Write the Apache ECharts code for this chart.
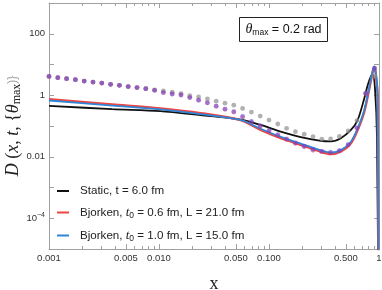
<!DOCTYPE html>
<html><head><meta charset="utf-8">
<script src="https://cdn.jsdelivr.net/npm/echarts@6/dist/echarts.min.js"></script>
<style>html,body{margin:0;padding:0;background:#fff}#c{width:382px;height:290px}</style>
</head><body><div id="c"></div>
<script>
// ---- data ----
const xTickLabels = [0.001, 0.005, 0.01, 0.05, 0.1, 0.5, 1];
const xTickText = ['0.001', '0.005', '0.010', '0.050', '0.100', '0.500', '1'];
const yTickLabels = [1e-4, 0.01, 1, 100];
const yTickText = ['10^-4', '0.01', '1', '100'];
const seriesNames = ['Static, t = 6.0 fm', 'Bjorken, t0 = 0.6 fm, L = 21.0 fm', 'Bjorken, t0 = 1.0 fm, L = 15.0 fm'];

const staticX = [0.001, 0.003754, 0.01028, 0.02381, 0.05515, 0.08395, 0.1278, 0.1944, 0.2958, 0.3649, 0.4502, 0.5556, 0.6393, 0.7345, 0.7888, 0.8455, 0.8762, 0.9195, 0.9590, 0.9895];
const staticY = [0.452, 0.354, 0.305, 0.226, 0.162, 0.108, 0.0655, 0.0432, 0.0328, 0.0316, 0.0401, 0.0743, 0.156, 0.783, 2.10, 4.19, 4.65, 1.64, 0.041, 1e-8];

const bj06X = [0.001, 0.003754, 0.01028, 0.02381, 0.05515, 0.08395, 0.1278, 0.1944, 0.2958, 0.3649, 0.4502, 0.5556, 0.6393, 0.7345, 0.8165, 0.8762, 0.9061, 0.9381, 0.9706, 0.9950];
const bj06Y = [0.743, 0.501, 0.372, 0.263, 0.156, 0.0743, 0.0401, 0.0244, 0.0145, 0.0122, 0.0148, 0.0277, 0.0743, 0.289, 1.64, 5.65, 8.19, 4.42, 1.0, 1e-8];

const bj10X = [0.001, 0.003754, 0.01028, 0.02381, 0.05515, 0.08395, 0.1278, 0.1944, 0.2958, 0.3649, 0.4502, 0.5556, 0.6393, 0.7345, 0.8165, 0.8762, 0.9061, 0.9381, 0.9706, 0.9930];
const bj10Y = [0.675, 0.459, 0.346, 0.244, 0.158, 0.0812, 0.0442, 0.0269, 0.0162, 0.0137, 0.0164, 0.0309, 0.0830, 0.328, 1.88, 6.17, 8.61, 5.12, 1.0, 1e-8];

const dotX = [0.001, 0.001202, 0.001445, 0.001738, 0.002089, 0.002512, 0.003020, 0.003631, 0.004365, 0.005248, 0.006310, 0.007586, 0.009120, 0.01096, 0.01318, 0.01585, 0.01905, 0.02291, 0.02754, 0.03311, 0.03981, 0.04786, 0.05754, 0.06918, 0.08318, 0.1, 0.1202, 0.1445, 0.1738, 0.2089, 0.2512, 0.3020, 0.3631, 0.4365, 0.5248, 0.6310, 0.7586, 0.9120];
const staticDots = [4.10, 3.72, 3.46, 3.21, 2.89, 2.69, 2.49, 2.26, 2.10, 1.91, 1.77, 1.64, 1.50, 1.38, 1.25, 1.13, 0.964, 0.882, 0.760, 0.640, 0.552, 0.475, 0.372, 0.283, 0.210, 0.156, 0.116, 0.0843, 0.0655, 0.054, 0.045, 0.0372, 0.0381, 0.0458, 0.069, 0.150, 1.16, 4.1];
const bj06Dots = [4.10, 3.72, 3.46, 3.21, 2.89, 2.69, 2.49, 2.26, 2.10, 1.91, 1.77, 1.64, 1.45, 1.22, 1.10, 1.02, 0.843, 0.690, 0.565, 0.442, 0.353, 0.285, 0.197, 0.136, 0.098, 0.069, 0.050, 0.0365, 0.027, 0.021, 0.0163, 0.0144, 0.0134, 0.0152, 0.0238, 0.084, 1.10, 7.3];
const bj10Dots = [4.10, 3.72, 3.46, 3.21, 2.89, 2.69, 2.49, 2.26, 2.10, 1.91, 1.77, 1.64, 1.45, 1.22, 1.10, 1.02, 0.843, 0.690, 0.565, 0.442, 0.353, 0.293, 0.204, 0.141, 0.102, 0.072, 0.052, 0.038, 0.0283, 0.022, 0.0172, 0.0152, 0.0142, 0.016, 0.025, 0.089, 1.16, 7.6];

const xMinorTicks = [0.002,0.003,0.004,0.006,0.007,0.008,0.009,0.02,0.03,0.04,0.06,0.07,0.08,0.09,0.2,0.3,0.4,0.6,0.7,0.8,0.9];
const yDecades = [1e-5,1e-4,1e-3,0.01,0.1,1,10,100,1000];

// ---- build ----
const zip = (xs, ys) => xs.map((x, i) => [x, ys[i]]);
const lblFont = 'Liberation Sans';
const frame = '#a0a0a0';
const lineColors = ['#111111', '#ef4444', '#2f86d6'];

function xAxisBase(extra) {
  return Object.assign({
    type: 'log', logBase: 10, min: 0.001, max: 1, gridIndex: 0,
    axisLine: { show: true, lineStyle: { color: frame, width: 1 } },
    splitLine: { show: false }, minorTick: { show: false }, minorSplitLine: { show: false }
  }, extra);
}
function yAxisBase(extra) {
  return Object.assign({
    type: 'log', logBase: 10, min: 1e-5, max: 1000, gridIndex: 0,
    axisLine: { show: true, lineStyle: { color: frame, width: 1 } },
    splitLine: { show: false }, minorTick: { show: false }, minorSplitLine: { show: false }
  }, extra);
}

const legendRich = {
  g: { width: 6 },
  n: { fontFamily: lblFont, fontSize: 11.6, color: '#222' },
  i: { fontFamily: 'Liberation Serif', fontStyle: 'italic', fontSize: 13, color: '#222' },
  s: { fontFamily: lblFont, fontSize: 8.5, color: '#222', padding: [6, 0, 0, 0] }
};
function legendFmt(name) {
  const m = name.match(/^(Bjorken, )t0( = .*)$/);
  if (m) return '{g|}{n|' + m[1] + '}{i|t}{s|0}{n|' + m[2] + '}';
  return '{g|}{n|' + name + '}';
}

const chart = echarts.init(document.getElementById('c'), null, { renderer: 'canvas' });
chart.setOption({
  animation: false,
  backgroundColor: '#fff',
  grid: { left: 49, right: 3, top: 3, bottom: 41, containLabel: false, outerBoundsMode: 'none' },
  legend: {
    data: seriesNames,
    orient: 'vertical', left: 52, top: 180, itemGap: 9,
    itemWidth: 12, itemHeight: 2, icon: 'rect',
    formatter: legendFmt,
    textStyle: { rich: legendRich, fontSize: 11.6 },
    selectedMode: false
  },
  xAxis: [
    xAxisBase({
      position: 'bottom',
      name: 'x', nameLocation: 'middle', nameGap: 26, nameMoveOverlap: false,
      nameTextStyle: { fontFamily: 'Liberation Serif', fontSize: 18, color: '#222' },
      axisTick: { show: true, inside: true, length: 5, lineStyle: { color: frame }, customValues: xTickLabels },
      axisLabel: {
        show: true, customValues: xTickLabels, margin: 4, fontSize: 9.5, fontFamily: lblFont, color: '#333',
        formatter: v => { const i = xTickLabels.findIndex(t => Math.abs(Math.log10(t) - Math.log10(v)) < 1e-6); return i >= 0 ? xTickText[i] : ''; }
      }
    }),
    xAxisBase({
      position: 'bottom', axisLine: { show: false },
      axisTick: { show: true, inside: true, length: 3, lineStyle: { color: frame }, customValues: xMinorTicks },
      axisLabel: { show: false }
    }),
    xAxisBase({
      position: 'top',
      axisTick: { show: true, inside: true, length: 5, lineStyle: { color: frame }, customValues: xTickLabels },
      axisLabel: { show: false }
    }),
    xAxisBase({
      position: 'top', axisLine: { show: false },
      axisTick: { show: true, inside: true, length: 3, lineStyle: { color: frame }, customValues: xMinorTicks },
      axisLabel: { show: false }
    })
  ],
  yAxis: [
    yAxisBase({
      position: 'left',
      name: '{i|D}{n| (}{i|x}{n|, }{i|t}{n|, {}{i|θ}{s|max}{n|})}',
      nameLocation: 'middle', nameGap: 26, nameRotate: 90, nameMoveOverlap: false,
      nameTextStyle: {
        rich: {
          i: { fontFamily: 'Liberation Serif', fontStyle: 'italic', fontSize: 18, color: '#222' },
          n: { fontFamily: 'Liberation Serif', fontSize: 18, color: '#222' },
          s: { fontFamily: 'Liberation Serif', fontSize: 12, color: '#222', padding: [8, 0, 0, 0] }
        }
      },
      axisTick: { show: true, inside: true, length: 5, lineStyle: { color: frame }, customValues: yDecades },
      axisLabel: {
        show: true, customValues: yTickLabels, margin: 4, fontSize: 9.5, fontFamily: lblFont, color: '#333',
        formatter: v => { const i = yTickLabels.findIndex(t => Math.abs(Math.log10(t) - Math.log10(v)) < 1e-6); if (i < 0) return ''; const s = yTickText[i]; if (s.indexOf('^') > 0) { const p = s.split('^'); return '{b|' + p[0] + '}{e|' + p[1].replace('-', '−') + '}'; } return s; },
        rich: { b: { fontSize: 9.5, fontFamily: lblFont, color: '#333' }, e: { fontSize: 7, fontFamily: lblFont, color: '#333', padding: [0, 0, 6, 0] } }
      }
    }),
    yAxisBase({
      position: 'right',
      axisTick: { show: true, inside: true, length: 5, lineStyle: { color: frame }, customValues: yDecades },
      axisLabel: { show: false }
    })
  ],
  graphic: [{
    type: 'group', left: 239, top: 17,
    children: [
      { type: 'rect', shape: { x: 0, y: 0, width: 88, height: 24 }, style: { fill: '#fff', stroke: '#222', lineWidth: 1 } },
      { type: 'text', x: 44, y: 12, style: {
          text: '{i|θ}{s|max}{n| = 0.2 rad}', align: 'center', verticalAlign: 'middle',
          rich: {
            i: { fontFamily: 'Liberation Serif', fontStyle: 'italic', fontSize: 14, fill: '#111' },
            s: { fontFamily: lblFont, fontSize: 8.5, fill: '#111', padding: [6, 0, 0, 0] },
            n: { fontFamily: lblFont, fontSize: 12.5, fill: '#111' }
          } } }
    ]
  }],
  series: [
    { name: 'dots static', type: 'scatter', data: zip(dotX, staticDots), symbolSize: 4.8, itemStyle: { color: 'rgba(140,140,140,0.85)' }, z: 3 },
    { name: 'dots bj06', type: 'scatter', data: zip(dotX, bj06Dots), symbolSize: 4.8, itemStyle: { color: 'rgba(235,55,70,0.62)' }, z: 4 },
    { name: 'dots bj10', type: 'scatter', data: zip(dotX, bj10Dots), symbolSize: 4.8, itemStyle: { color: 'rgba(80,70,245,0.62)' }, z: 5 },
    { name: seriesNames[0], type: 'line', data: zip(staticX, staticY), smooth: 0.3, showSymbol: false, symbol: 'none', lineStyle: { color: lineColors[0], width: 1.8 }, itemStyle: { color: lineColors[0] }, z: 2 },
    { name: seriesNames[1], type: 'line', data: zip(bj06X, bj06Y), smooth: 0.3, showSymbol: false, symbol: 'none', lineStyle: { color: lineColors[1], width: 2.4 }, itemStyle: { color: lineColors[1] }, z: 2 },
    { name: seriesNames[2], type: 'line', data: zip(bj10X, bj10Y), smooth: 0.3, showSymbol: false, symbol: 'none', lineStyle: { color: lineColors[2], width: 1.8 }, itemStyle: { color: lineColors[2] }, z: 2 }
  ]
});
</script></body></html>
